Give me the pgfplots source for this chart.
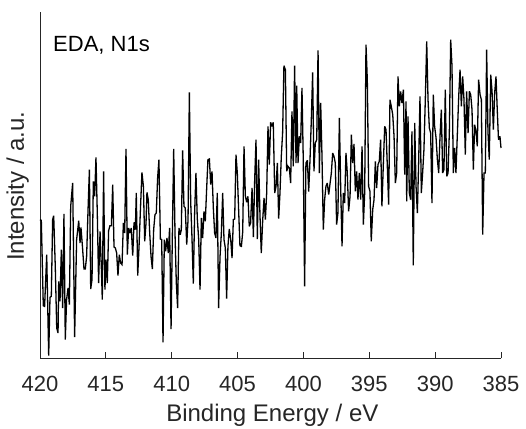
\documentclass[border=0pt]{standalone}
\usepackage{pgfplots}
\pgfplotsset{compat=1.18}
\usepackage{fontspec}
\setmainfont{Liberation Sans}
\definecolor{mgray}{HTML}{262626}
\begin{document}
\begin{tikzpicture}
\path[use as bounding box] (-40pt,-70pt) rectangle (486pt,358pt);
\begin{axis}[
  at={(0,0)}, anchor=south west,
  width=461pt, height=346pt, scale only axis,
  x dir=reverse, xmin=385, xmax=420, ymin=0, ymax=1038,
  axis x line*=bottom, axis y line*=left,
  axis line style={mgray, line width=0.8pt, -},
  xtick={385,390,...,420}, ytick=\empty,
  tick align=inside, major tick length=6pt,
  tick style={mgray, line width=0.8pt},
  /pgf/number format/assume math mode=true,
  ticklabel style={font=\fontsize{22}{24}\selectfont, text=mgray},
  xticklabel style={anchor=base, yshift=-33pt},
  label style={font=\fontsize{24}{28}\selectfont, text=mgray},
  xlabel={Binding Energy / eV},
  xlabel style={at={(axis description cs:0.504,-0.184)}, anchor=base},
  ylabel={Intensity / a.u.},
  ylabel style={at={(axis description cs:-0.0347,0.497)}, anchor=base},
  clip=false,
]
\addplot[black, line width=1.3pt, line join=miter, miter limit=3] table {
x y
420.00 415
419.90 413
419.75 157
419.65 155
419.49 310
419.34 7
419.24 182
419.14 185
419.04 415
418.96 427
418.84 275
418.73 90
418.63 75
418.58 230
418.48 170
418.38 325
418.28 150
418.18 432
418.08 55
417.98 175
417.87 210
417.77 160
417.67 455
417.52 525
417.37 63
417.22 355
417.06 412
416.96 345
416.89 392
416.76 325
416.66 267
416.56 267
416.46 305
416.36 435
416.25 565
416.15 207
416.05 235
415.95 530
415.85 485
415.75 602
415.65 435
415.55 225
415.44 380
415.34 270
415.27 175
415.17 560
415.07 205
414.99 295
414.89 225
414.79 382
414.69 397
414.58 397
414.48 520
414.38 333
414.28 330
414.18 315
414.08 247
413.98 310
413.88 285
413.77 280
413.67 405
413.57 375
413.47 627
413.37 310
413.27 390
413.17 375
413.07 390
412.96 307
412.86 407
412.76 385
412.69 495
412.58 247
412.48 335
412.38 440
412.26 557
412.15 515
412.05 350
411.95 405
411.88 497
411.78 475
411.67 375
411.57 305
411.47 267
411.37 385
411.27 430
411.17 435
411.07 540
410.97 595
410.86 357
410.76 355
410.66 47
410.56 355
410.46 320
410.36 360
410.26 315
410.16 390
410.05 87
409.95 370
409.85 627
409.75 375
409.65 225
409.55 150
409.45 390
409.35 370
409.27 385
409.17 623
409.07 455
408.97 450
408.86 340
408.76 415
408.66 797
408.56 470
408.46 360
408.36 223
408.26 435
408.16 555
408.06 420
407.95 355
407.85 205
407.75 420
407.65 360
407.55 440
407.45 410
407.35 505
407.25 595
407.14 597
407.04 520
406.94 560
406.84 450
406.74 375
406.64 360
406.54 495
406.44 150
406.33 305
406.23 375
406.13 495
406.03 355
405.93 330
405.83 178
405.73 335
405.63 387
405.52 355
405.42 300
405.32 415
405.22 417
405.12 610
405.02 555
404.92 445
404.82 337
404.71 335
404.61 378
404.51 635
404.41 487
404.31 467
404.21 485
404.11 395
404.01 405
403.90 510
403.80 363
403.70 535
403.60 655
403.50 357
403.40 595
403.30 430
403.20 315
403.09 415
402.99 480
402.89 415
402.79 495
402.69 695
402.59 580
402.49 707
402.39 695
402.29 707
402.18 495
402.08 515
401.98 585
401.88 418
401.78 495
401.68 605
401.58 675
401.48 877
401.37 865
401.27 560
401.17 575
401.07 570
400.97 525
400.87 740
400.77 575
400.67 877
400.56 585
400.51 817
400.41 585
400.31 665
400.21 645
400.11 810
400.01 590
399.91 215
399.81 585
399.70 593
399.60 499
399.50 595
399.40 715
399.30 857
399.20 560
399.10 645
398.99 655
398.89 923
398.79 555
398.69 765
398.59 605
398.49 385
398.39 475
398.29 515
398.19 525
398.08 490
397.98 523
397.88 555
397.78 615
397.68 605
397.58 585
397.48 400
397.38 435
397.27 720
397.17 510
397.07 335
396.97 495
396.87 465
396.77 615
396.67 555
396.57 440
396.46 485
396.36 670
396.26 585
396.16 642
396.06 500
395.96 560
395.86 475
395.76 555
395.65 475
395.55 635
395.45 400
395.35 495
395.25 940
395.15 835
395.05 515
394.95 500
394.85 350
394.74 445
394.64 475
394.54 590
394.44 510
394.34 580
394.24 590
394.14 655
394.04 455
393.93 585
393.83 695
393.73 685
393.63 575
393.53 460
393.43 775
393.33 755
393.22 730
393.12 665
393.02 525
392.92 555
392.82 845
392.72 755
392.62 800
392.52 765
392.41 805
392.31 550
392.21 770
392.16 470
392.06 725
391.96 495
391.86 475
391.76 680
391.66 278
391.55 705
391.45 515
391.35 435
391.25 590
391.15 785
391.05 495
390.95 555
390.85 625
390.74 785
390.64 950
390.54 775
390.44 690
390.34 675
390.24 465
390.14 790
390.04 695
389.93 660
389.83 595
389.73 555
389.63 665
389.53 745
389.43 555
389.33 565
389.23 805
389.12 545
389.02 555
388.92 680
388.82 955
388.72 875
388.62 555
388.52 630
388.42 555
388.32 665
388.21 785
388.11 865
388.01 755
387.91 845
387.81 775
387.71 610
387.61 800
387.50 675
387.40 800
387.30 790
387.20 745
387.10 565
387.00 700
386.90 680
386.80 635
386.70 835
386.59 790
386.49 775
386.39 370
386.29 555
386.19 555
386.09 925
385.99 680
385.89 595
385.78 850
385.68 800
385.58 685
385.48 795
385.38 845
385.28 740
385.19 655
385.08 665
385.00 630
};
\node[anchor=base west, font=\fontsize{22}{26}\selectfont, text=black, inner sep=0pt] at (axis description cs:0.0282,0.887) {EDA, N1s};
\end{axis}
\end{tikzpicture}
\end{document}
